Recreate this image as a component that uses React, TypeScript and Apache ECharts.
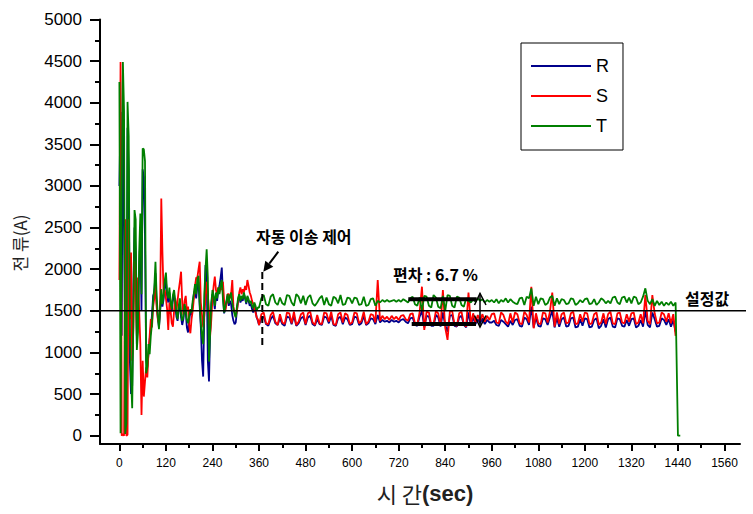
import React, { useEffect, useRef } from "react";
import * as echarts from "echarts";

// sampling grid: 0..357 s every 3 s, then 360..1446 s every 6 s
const EARLY_STEP = 3;
const LATE_START = 360;
const LATE_STEP = 6;

const rEarly = [
  3000, 3890, 1200, 4390, 2500, 1190, 100, 3700, 3200, 900,
  500, 600, 1800, 2500, 2200, 1100, 1500, 2000, 2400, 1500,
  3200, 3100, 2400, 900, 830, 980, 1150, 1300, 1450, 1680,
  1720, 1950, 1600, 1420, 1300, 1480, 1700, 1550, 1640, 1800,
  1850, 1680, 1600, 1720, 1580, 1490, 1650, 1700, 1560, 1430,
  1380, 1520, 1600, 1420, 1330, 1400, 1540, 1480, 1300, 1240,
  1380, 1500, 1450, 1580, 1700, 1750, 1650, 1800, 1850, 1550,
  1300, 900, 710, 1500, 2050, 2000, 900, 650, 1250, 1580,
  1700, 1650, 1520, 1680, 1620, 1750, 1800, 1900, 2020, 1700,
  1470, 1520, 1600, 1680, 1560, 1620, 1580, 1450, 1380, 1340,
  1360, 1500, 1620, 1680, 1600, 1640, 1620, 1700, 1650, 1580,
  1660, 1620, 1560, 1580, 1520, 1480, 1560, 1500, 1420, 1380,
];
const sEarly = [
  1870, 4490, 0, 20, 0, 2600, 0, 10, 2600, 1400,
  2200, 900, 1300, 2100, 1800, 1200, 1900, 1500, 1100, 250,
  900, 470, 650, 820, 700, 1000, 1200, 1400, 1300, 1550,
  1650, 1800, 1550, 1400, 1350, 1550, 2850, 2200, 1700, 1750,
  1650, 1520, 1270, 1600, 1500, 1350, 1310, 1500, 1650, 1500,
  1620, 1750, 1850, 1970, 1600, 1450, 1620, 1680, 1500, 1550,
  1320, 1230, 1400, 1500, 1650, 1800, 1900, 1900, 2000, 2090,
  1600, 1450, 1300, 1450, 1650, 1850, 1700, 1500, 1200, 1400,
  1650, 1800, 1910, 1750, 1700, 1780, 1720, 1800, 1750, 1850,
  1620, 1500, 1580, 1700, 1700, 1650, 1700, 1870, 1550, 1480,
  1430, 1500, 1620, 1720, 1780, 1700, 1760, 1720, 1800, 1750,
  1870, 1800, 1720, 1680, 1620, 1580, 1520, 1480, 1420, 1400,
];
const tEarly = [
  4250, 30, 2900, 4490, 3900, 20, 150, 4010, 3600, 1300,
  700, 330, 1400, 2710, 2600, 1030, 1250, 2200, 2670, 1700,
  3450, 3440, 3300, 750, 820, 1100, 980, 1200, 1350, 1620,
  1780, 2090, 1680, 1450, 1280, 1520, 1760, 1580, 1690, 1870,
  1960, 1720, 1650, 1780, 1600, 1520, 1690, 1750, 1620, 1480,
  1400, 1560, 1650, 1470, 1380, 1430, 1580, 1520, 1390, 1350,
  1440, 1520, 1480, 1620, 1710, 1820, 1700, 1880, 1920, 1600,
  1350, 1200, 1100, 1700, 2000, 2240, 1900, 890, 1250, 1600,
  1750, 1680, 1560, 1720, 1650, 1780, 1700, 1820, 1870, 1640,
  1480, 1550, 1620, 1700, 1590, 1680, 1720, 1600, 1520, 1460,
  1420, 1550, 1650, 1700, 1620, 1680, 1640, 1720, 1660, 1600,
  1680, 1640, 1590, 1620, 1560, 1530, 1600, 1560, 1500, 1540,
];

const rLate = [
  1330, 1410, 1430, 1340, 1320, 1400, 1440, 1350, 1330, 1410,
  1340, 1320, 1430, 1420, 1340, 1440, 1320, 1350, 1410, 1430,
  1330, 1420, 1440, 1340, 1320, 1400, 1340, 1330, 1430, 1420,
  1350, 1440, 1330, 1320, 1410, 1430, 1340, 1420, 1400, 1330,
  1340, 1430, 1420, 1330, 1350, 1440, 1330, 1350, 1410, 1400,
  1340, 1450, 1360, 1390, 1370, 1380, 1360, 1390, 1370, 1380,
  1360, 1390, 1400, 1370, 1350, 1410, 1420, 1330, 1320, 1430,
  1500, 1300, 1440, 1430, 1320, 1320, 1450, 1420, 1310, 1480,
  1330, 1250, 1440, 1450, 1320, 1310, 1420, 1440, 1330, 1300,
  1480, 1330, 1420, 1340, 1400, 1350, 1410, 1340, 1390, 1360,
  1360, 1380, 1330, 1320, 1390, 1370, 1340, 1310, 1380, 1330,
  1390, 1400, 1320, 1310, 1420, 1400, 1330, 1550, 1300, 1420,
  1320, 1310, 1410, 1400, 1330, 1420, 1500, 1300, 1410, 1310,
  1400, 1420, 1310, 1320, 1410, 1420, 1300, 1310, 1400, 1320,
  1410, 1400, 1300, 1310, 1390, 1410, 1290, 1320, 1400, 1300,
  1400, 1420, 1310, 1300, 1410, 1400, 1320, 1310, 1390, 1320,
  1400, 1410, 1300, 1320, 1390, 1310, 1500, 1330, 1300, 1480,
  1400, 1310, 1320, 1410, 1390, 1330, 1400, 1310, 1390, 1250, null, null,
];
const sLate = [
  1330, 1460, 1480, 1350, 1340, 1450, 1490, 1370, 1330, 1460,
  1360, 1340, 1480, 1470, 1350, 1490, 1330, 1370, 1460, 1480,
  1340, 1470, 1490, 1360, 1330, 1450, 1350, 1340, 1480, 1470,
  1370, 1490, 1340, 1330, 1460, 1480, 1360, 1470, 1450, 1340,
  1360, 1480, 1470, 1350, 1380, 1490, 1340, 1370, 1460, 1450,
  1360, 1870, 1380, 1440, 1400, 1430, 1390, 1440, 1400, 1430,
  1390, 1440, 1450, 1400, 1380, 1460, 1470, 1350, 1340, 1480,
  1790, 1270, 1490, 1480, 1330, 1340, 1500, 1470, 1320, 1750,
  1300, 1150, 1490, 1500, 1330, 1320, 1470, 1490, 1340, 1310,
  1720, 1340, 1470, 1360, 1450, 1380, 1460, 1370, 1440, 1390,
  1460, 1470, 1360, 1350, 1480, 1450, 1370, 1340, 1470, 1360,
  1480, 1460, 1350, 1340, 1490, 1450, 1360, 1790, 1290, 1470,
  1350, 1340, 1480, 1470, 1360, 1490, 1720, 1310, 1480, 1340,
  1460, 1480, 1350, 1360, 1470, 1490, 1340, 1350, 1460, 1370,
  1480, 1470, 1340, 1350, 1460, 1480, 1330, 1360, 1470, 1340,
  1460, 1490, 1350, 1340, 1470, 1480, 1360, 1350, 1460, 1370,
  1470, 1480, 1340, 1360, 1460, 1350, 1690, 1380, 1340, 1690,
  1470, 1350, 1360, 1480, 1460, 1370, 1470, 1350, 1460, 1200, null, null,
];
const tLate = [
  1540, 1650, 1690, 1580, 1560, 1670, 1700, 1600, 1570, 1660,
  1590, 1570, 1690, 1680, 1600, 1560, 1700, 1670, 1590, 1680,
  1570, 1660, 1690, 1590, 1560, 1600, 1650, 1680, 1570, 1660,
  1580, 1560, 1670, 1650, 1590, 1690, 1570, 1580, 1660, 1650,
  1590, 1660, 1650, 1570, 1580, 1670, 1560, 1570, 1640, 1650,
  1560, 1620, 1600, 1630, 1610, 1630, 1610, 1620, 1630, 1610,
  1630, 1610, 1640, 1620, 1600, 1650, 1670, 1580, 1560, 1660,
  1500, 1680, 1670, 1560, 1540, 1690, 1660, 1550, 1530, 1680,
  1500, 1690, 1680, 1560, 1540, 1670, 1660, 1570, 1550, 1650,
  1620, 1600, 1640, 1610, 1650, 1620, 1640, 1600, 1630, 1610,
  1630, 1600, 1640, 1590, 1630, 1610, 1650, 1600, 1640, 1610,
  1590, 1580, 1650, 1660, 1570, 1670, 1650, 1770, 1560, 1670,
  1580, 1650, 1640, 1570, 1590, 1660, 1680, 1560, 1650, 1580,
  1640, 1630, 1580, 1590, 1650, 1640, 1570, 1590, 1630, 1600,
  1640, 1650, 1580, 1590, 1640, 1570, 1600, 1650, 1630, 1590,
  1620, 1590, 1660, 1670, 1600, 1580, 1660, 1670, 1600, 1660,
  1590, 1670, 1660, 1580, 1600, 1670, 1770, 1620, 1580, 1640,
  1560, 1620, 1570, 1610, 1560, 1600, 1570, 1610, 1560, 1600, 0, 0,
];

const xMajorTicks = [0, 120, 240, 360, 480, 600, 720, 840, 960, 1080, 1200, 1320, 1440, 1560];
const xMinorTicks = [60, 180, 300, 420, 540, 660, 780, 900, 1020, 1140, 1260, 1380, 1500];
const yMajorTicks = [0, 500, 1000, 1500, 2000, 2500, 3000, 3500, 4000, 4500, 5000];
const yMinorTicks = [250, 750, 1250, 1750, 2250, 2750, 3250, 3750, 4250, 4750];
const SET_POINT = 1500;

const seriesNames = ["R", "S", "T"];
const seriesColors = ["#00008B", "#FF0000", "#007F00"];

function buildTimes(): number[] {
  const out: number[] = [];
  for (let j = 0; j < rEarly.length; j++) out.push(j * EARLY_STEP);
  for (let i = 0; i < rLate.length; i++) out.push(LATE_START + i * LATE_STEP);
  return out;
}

function pairs(times: number[], vals: (number | null)[]) {
  const res: [number, number][] = [];
  vals.forEach((v, i) => {
    if (v !== null && v !== undefined) res.push([times[i], v]);
  });
  return res;
}

const LATIN = "'Liberation Sans', Arial, sans-serif";
const KR = "'Noto Sans CJK KR', sans-serif";
const plain = (v: number) => String(v);

export default function App() {
  const ref = useRef<HTMLDivElement>(null);
  useEffect(() => {
    if (!ref.current) return;
    const chart = echarts.init(ref.current, undefined, { renderer: "svg" });
    const times = buildTimes();
    const all = [
      [...rEarly, ...rLate],
      [...sEarly, ...sLate],
      [...tEarly, ...tLate],
    ];
    const axisCommonX = {
      type: "value",
      min: -50,
      max: 1600,
      position: "bottom",
      splitLine: { show: false },
    };
    const axisCommonY = {
      type: "value",
      min: -100,
      max: 5000,
      position: "left",
      splitLine: { show: false },
    };
    chart.setOption({
      animation: false,
      grid: { left: 100, top: 19.5, width: 640, height: 424.5 },
      legend: {
        data: seriesNames,
        orient: "vertical",
        left: 521,
        top: 43,
        itemWidth: 60,
        itemHeight: 14,
        itemGap: 12,
        padding: [14, 14, 15, 9],
        borderColor: "#000",
        borderWidth: 1,
        backgroundColor: "#fff",
        itemStyle: { opacity: 0 },
        lineStyle: { width: 2 },
        textStyle: { fontSize: 18, fontFamily: LATIN, color: "#000" },
      },
      xAxis: [
        {
          ...axisCommonX,
          axisLine: { show: true, onZero: false, lineStyle: { color: "#000", width: 2 } },
          axisTick: { show: true, customValues: xMajorTicks, length: 7, lineStyle: { color: "#000", width: 2 } },
          axisLabel: { customValues: xMajorTicks, formatter: plain, margin: 13, fontSize: 12, fontFamily: LATIN, color: "#000" },
        },
        {
          ...axisCommonX,
          axisLine: { show: false, onZero: false },
          axisTick: { show: true, customValues: xMinorTicks, length: 4, lineStyle: { color: "#000", width: 2 } },
          axisLabel: { show: false },
        },
      ],
      yAxis: [
        {
          ...axisCommonY,
          axisLine: { show: true, onZero: false, lineStyle: { color: "#000", width: 2 } },
          axisTick: { show: true, customValues: yMajorTicks, length: 10, lineStyle: { color: "#000", width: 2 } },
          axisLabel: { customValues: yMajorTicks, formatter: plain, margin: 18, fontSize: 17, fontFamily: LATIN, color: "#000" },
        },
        {
          ...axisCommonY,
          axisLine: { show: false, onZero: false },
          axisTick: { show: true, customValues: yMinorTicks, length: 5, lineStyle: { color: "#000", width: 2 } },
          axisLabel: { show: false },
        },
      ],
      series: seriesNames.map((name, k) => ({
        name,
        type: "line",
        xAxisIndex: 0,
        yAxisIndex: 0,
        data: pairs(times, all[k]),
        showSymbol: false,
        symbol: "none",
        color: seriesColors[k],
        lineStyle: { color: seriesColors[k], width: 1.8 },
        z: 2 + k,
      })),
    });

    const ySet = chart.convertToPixel({ yAxisIndex: 0 }, SET_POINT) as number;
    const xLeft = chart.convertToPixel({ xAxisIndex: 0 }, -50) as number;

    chart.setOption({
      graphic: [
        {
          type: "line",
          z: 100,
          shape: { x1: xLeft, y1: ySet, x2: 746, y2: ySet },
          style: { stroke: "#000", lineWidth: 1.5 },
        },
        {
          type: "text",
          z: 100,
          x: 19,
          y: 243,
          rotation: Math.PI / 2,
          style: {
            text: "전 류(A)",
            fontSize: 17,
            fontFamily: KR,
            fill: "#222",
            align: "center",
            verticalAlign: "middle",
          },
        },
        {
          type: "text",
          z: 100,
          x: 425,
          y: 493,
          style: {
            text: "{a|시 간}{b|(sec)}",
            align: "center",
            verticalAlign: "middle",
            rich: {
              a: { fontSize: 22, fontFamily: KR, fill: "#222" },
              b: { fontSize: 22, fontFamily: LATIN, fontWeight: "bold", fill: "#222" },
            },
          },
        },
        {
          type: "text",
          z: 100,
          x: 256,
          y: 236,
          style: {
            text: "자동 이송 제어",
            fontSize: 16,
            fontWeight: "bold",
            fontFamily: KR,
            fill: "#000",
            align: "left",
            verticalAlign: "middle",
          },
        },
        {
          type: "line",
          z: 100,
          shape: { x1: 278.3, y1: 251.7, x2: 269.3, y2: 263.7 },
          style: { stroke: "#000", lineWidth: 2 },
        },
        {
          type: "polygon",
          z: 100,
          shape: { points: [[263.3, 271.7], [273.3, 266.7], [265.3, 260.7]] },
          style: { fill: "#000" },
        },
        {
          type: "line",
          z: 100,
          shape: { x1: 262.3, y1: 272, x2: 262.3, y2: 347 },
          style: { stroke: "#000", lineWidth: 2, lineDash: [7, 4] },
        },
        {
          type: "text",
          z: 100,
          x: 393,
          y: 273.5,
          style: {
            text: "편차 : 6.7 %",
            fontSize: 16,
            fontWeight: "bold",
            fontFamily: KR,
            fill: "#000",
            align: "left",
            verticalAlign: "middle",
          },
        },
        {
          type: "line",
          z: 100,
          shape: { x1: 408.3, y1: 299.3, x2: 476.7, y2: 299.3 },
          style: { stroke: "#000", lineWidth: 4 },
        },
        {
          type: "line",
          z: 100,
          shape: { x1: 411.7, y1: 324, x2: 476, y2: 324 },
          style: { stroke: "#000", lineWidth: 4 },
        },
        {
          type: "polyline",
          z: 100,
          shape: { points: [[474.5, 305], [480, 293.5], [486, 305]] },
          style: { stroke: "#000", lineWidth: 1.5, fill: "none" },
        },
        {
          type: "polyline",
          z: 100,
          shape: { points: [[474.5, 315.5], [480, 327], [486, 315.5]] },
          style: { stroke: "#000", lineWidth: 1.5, fill: "none" },
        },
        {
          type: "line",
          z: 100,
          shape: { x1: 480, y1: 293.5, x2: 480, y2: 327 },
          style: { stroke: "#000", lineWidth: 1.5 },
        },
        {
          type: "text",
          z: 100,
          x: 685,
          y: 298,
          style: {
            text: "설정값",
            fontSize: 16,
            fontWeight: "bold",
            fontFamily: KR,
            fill: "#000",
            align: "left",
            verticalAlign: "middle",
          },
        },
      ],
    });

    return () => chart.dispose();
  }, []);

  return (
    <div
      ref={ref}
      style={{ position: "fixed", left: 0, top: 0, width: 753, height: 514, background: "#fff" }}
    />
  );
}
